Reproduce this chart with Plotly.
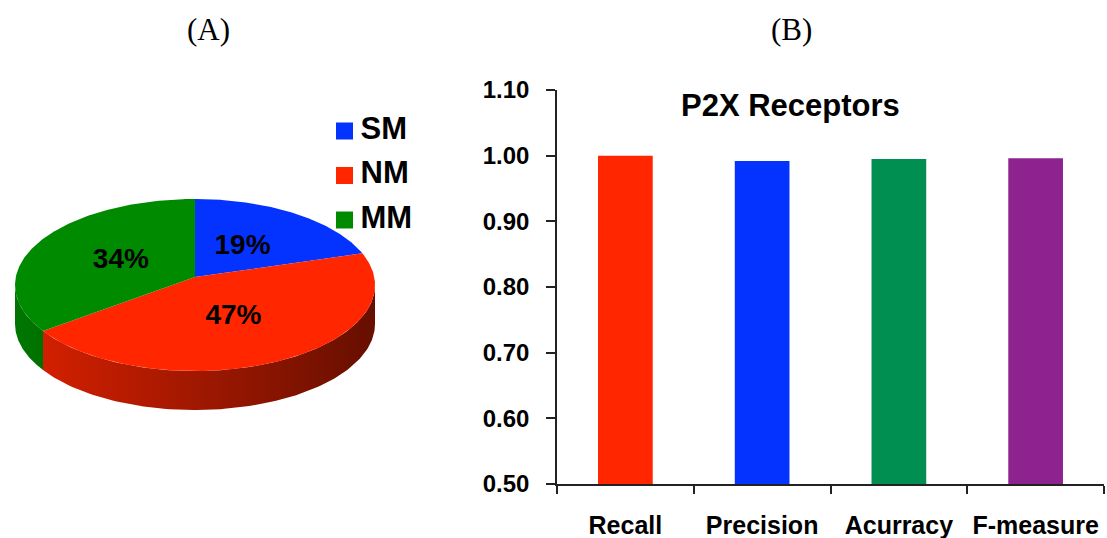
import numpy as np
import plotly.graph_objects as go

# ---- data ----
pie_labels = ["SM", "NM", "MM"]
pie_shares = [19, 47, 34]
pie_colors = ["#0433ff", "#ff2600", "#008a00"]

metric_names = ["Recall", "Precision", "Acurracy", "F-measure"]
metric_scores = [1.000, 0.992, 0.995, 0.996]
metric_colors = ["#ff2600", "#0433ff", "#008f50", "#8e2390"]

y_ticks = [0.5, 0.6, 0.7, 0.8, 0.9, 1.0, 1.1]

W, H = 1107, 538
BOLD = dict(family="Liberation Sans, Arial, sans-serif", color="black", weight="bold")
SERIF = dict(family="Liberation Serif, Times New Roman, serif", size=31, color="black")

fig = go.Figure()

# ---- panel A: tilted pie drawn on a pixel-scaled helper axis ----
cx, cy = 195.0, 285.0      # centre of the top ellipse
ra, rb = 180.0, 86.0       # ellipse semi-axes
apex = (195.0, 277.0)      # slice meeting point (perspective shifted)
depth = 39.0               # thickness of the disc


def rim(t_deg):
    t = np.radians(t_deg)
    return cx + ra * np.cos(t), cy - rb * np.sin(t)


def shade(hex_color, x):
    """Darken a colour progressively from left to right across the disc."""
    f = 0.86 - 0.46 * (x - (cx - ra)) / (2 * ra)
    r, g, b = (int(hex_color[i:i + 2], 16) for i in (1, 3, 5))
    return f"rgb({int(r * f)},{int(g * f)},{int(b * f)})"


angles = []
cum = 0.0
for share in pie_shares:
    t0 = 90 - 360 * cum / 100
    cum += share
    t1 = 90 - 360 * cum / 100
    angles.append((t0, t1))

# visible side walls (front half of the disc: angles between -180 and 0)
for (t0, t1), col in zip(angles, pie_colors):
    hi, lo = min(t0, 0.0), max(t1, -180.0)
    if hi <= lo:
        continue
    ts = np.linspace(hi, lo, 120)
    xs, ys = rim(ts)
    px = np.concatenate([xs, xs[::-1], xs[:1]])
    py = np.concatenate([ys, ys[::-1] + depth, ys[:1]])
    fig.add_trace(go.Scatter(
        x=px, y=py, xaxis="x2", yaxis="y2", mode="lines", fill="toself",
        line=dict(width=0), hoverinfo="skip", showlegend=False,
        fillgradient=dict(type="horizontal",
                          colorscale=[[0, shade(col, xs.min())], [1, shade(col, xs.max())]]),
    ))

# top faces of the slices
for (t0, t1), col, lab in zip(angles, pie_colors, pie_labels):
    ts = np.linspace(t0, t1, 160)
    xs, ys = rim(ts)
    px = np.concatenate([[apex[0]], xs, [apex[0]]])
    py = np.concatenate([[apex[1]], ys, [apex[1]]])
    fig.add_trace(go.Scatter(
        x=px, y=py, xaxis="x2", yaxis="y2", mode="lines", fill="toself",
        fillcolor=col, line=dict(width=0), name=lab, hoverinfo="name",
        showlegend=False,
    ))

# percentage labels placed half way along each slice's mid angle
lab_x, lab_y, lab_t = [], [], []
for (t0, t1), share in zip(angles, pie_shares):
    mx, my = rim((t0 + t1) / 2)
    lab_x.append(apex[0] + 0.47 * (mx - apex[0]))
    lab_y.append(apex[1] + 0.47 * (my - apex[1]))
    lab_t.append(f"{share}%")
fig.add_trace(go.Scatter(
    x=lab_x, y=lab_y, text=lab_t, mode="text", xaxis="x2", yaxis="y2",
    textfont=dict(size=28, **BOLD), hoverinfo="skip", showlegend=False,
))

# key for the pie: coloured squares with the slice names beside them
key_x = [344.5] * len(pie_labels)
key_y = [131 + 44.5 * i for i in range(len(pie_labels))]
fig.add_trace(go.Scatter(
    x=key_x, y=key_y, mode="markers", xaxis="x2", yaxis="y2",
    marker=dict(symbol="square", size=17, color=pie_colors, line=dict(width=0)),
    hoverinfo="skip", showlegend=False,
))
fig.add_trace(go.Scatter(
    x=[k + 16 for k in key_x], y=key_y, text=pie_labels, mode="text", xaxis="x2", yaxis="y2",
    textposition="middle right", textfont=dict(size=31, **BOLD),
    hoverinfo="skip", showlegend=False,
))

# ---- panel B: bar chart ----
fig.add_trace(go.Bar(
    x=metric_names, y=metric_scores, marker=dict(color=metric_colors, line=dict(width=0)),
    width=0.4, showlegend=False, xaxis="x", yaxis="y",
))

pie_dom = 0.46
fig.update_layout(
    width=W, height=H, autosize=False,
    margin=dict(l=0, r=0, t=0, b=0, autoexpand=False),
    paper_bgcolor="white", plot_bgcolor="white",
    xaxis=dict(
        domain=[557 / W, 1104 / W], range=[-0.5, 3.5],
        showline=True, linecolor="#222", linewidth=1.5,
        ticks="outside", tickson="boundaries", ticklen=8, tickwidth=1.5, tickcolor="#222",
        showgrid=False, zeroline=False, ticklabelstandoff=18,
        tickfont=dict(size=25, **BOLD),
    ),
    yaxis=dict(
        domain=[(H - 484) / H, (H - 90) / H], range=[0.5, 1.1],
        tickvals=y_ticks, ticktext=[f"{v:.2f}" for v in y_ticks],
        showline=True, linecolor="#222", linewidth=1.5,
        ticks="outside", ticklen=9, tickwidth=1.5, tickcolor="#222",
        showgrid=False, zeroline=False, ticklabelstandoff=12,
        tickfont=dict(size=24, **BOLD),
    ),
    xaxis2=dict(domain=[0, pie_dom], range=[0, pie_dom * W], visible=False, fixedrange=True),
    yaxis2=dict(domain=[0, 1], range=[H, 0], visible=False, fixedrange=True, anchor="x2"),
    annotations=[
        dict(text="(A)", x=208 / W, y=1 - 30 / H, xref="paper", yref="paper", showarrow=False,
             xanchor="center", yanchor="middle", font=SERIF),
        dict(text="(B)", x=791 / W, y=1 - 30 / H, xref="paper", yref="paper", showarrow=False,
             xanchor="center", yanchor="middle", font=SERIF),
        dict(text="P2X Receptors", x=790 / W, y=1 - 105 / H, xref="paper", yref="paper",
             xanchor="center", yanchor="middle", showarrow=False, font=dict(size=31, **BOLD)),
    ],
)

fig.write_html("out.html")
